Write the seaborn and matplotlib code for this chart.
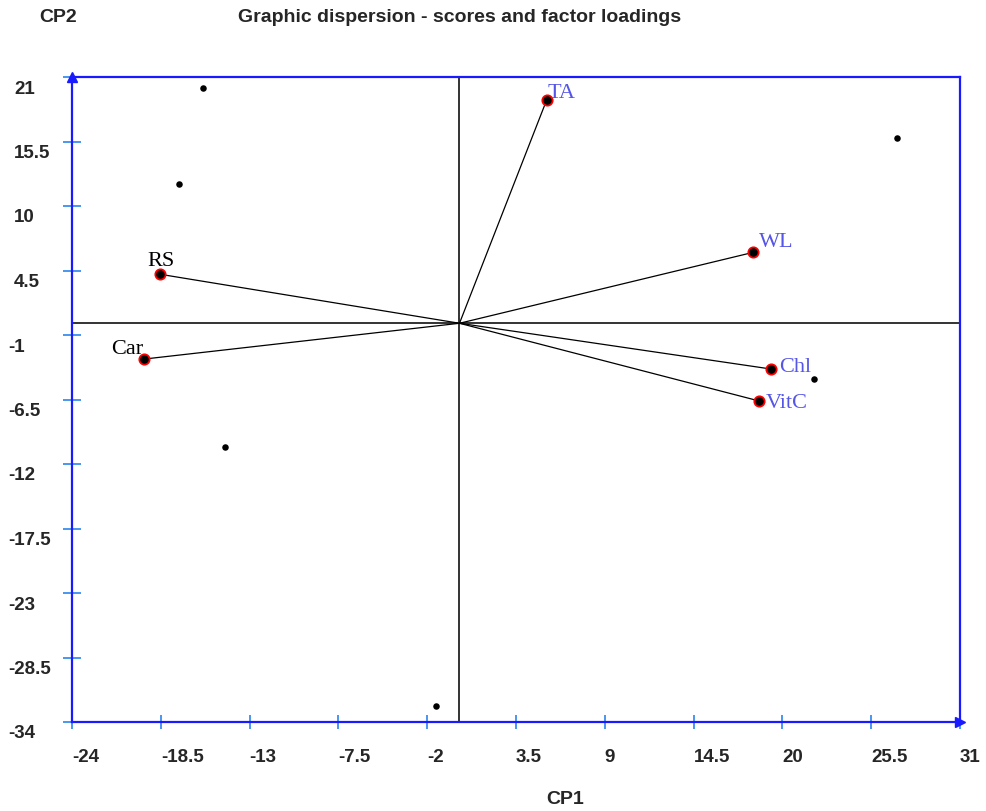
import matplotlib
matplotlib.use("Agg")
import matplotlib.pyplot as plt
import seaborn as sns
import pandas as pd
import numpy as np

# factor loadings (CP1, CP2)
load_names = ["TA", "WL", "Chl", "VitC", "RS", "Car"]
load_cp1 = [5.40, 18.20, 19.29, 18.57, -18.55, -19.52]
load_cp2 = [19.04, 6.05, -3.90, -6.63, 4.18, -3.05]

# scores (CP1, CP2)
score_cp1 = [-15.89, -17.37, 27.10, 21.98, -14.52, -1.45]
score_cp2 = [20.04, 11.88, 15.80, -4.78, -10.55, -32.64]

ticks_x = [-24, -18.5, -13, -7.5, -2, 3.5, 9, 14.5, 20, 25.5, 31]
ticks_y = [21, 15.5, 10, 4.5, -1, -6.5, -12, -17.5, -23, -28.5, -34]

sns.set_style("white")
plt.rcParams['font.family'] = ['Liberation Sans', 'DejaVu Sans']

loads = pd.DataFrame({"name": load_names, "cp1": load_cp1, "cp2": load_cp2})
scores = pd.DataFrame({"cp1": score_cp1, "cp2": score_cp2})

fig = plt.figure(figsize=(9.86, 8.11), dpi=100)
ax = fig.add_axes([72 / 986, 89 / 811, 888 / 986, 645 / 811])

# zero lines
ax.axhline(0, color="#333333", lw=1.4, zorder=1)
ax.axvline(0, color="#333333", lw=1.4, zorder=1)

# loading vectors
for _, r in loads.iterrows():
    ax.plot([0, r.cp1], [0, r.cp2], color="black", lw=0.9, zorder=2)

sns.scatterplot(data=scores, x="cp1", y="cp2", ax=ax, color="black", s=22,
                edgecolor="black", linewidth=0, zorder=3)
sns.scatterplot(data=loads, x="cp1", y="cp2", ax=ax, color="black", s=55,
                edgecolor="red", linewidth=1.3, zorder=4)

# loading labels: offset in pixels (baseline), alignment, colour
lab_style = {
    "TA": ((1, 2), "left", "#5555e6"),
    "WL": ((6, 5), "left", "#5555e6"),
    "Chl": ((8, -3), "left", "#5555e6"),
    "VitC": ((6, -7), "left", "#5555e6"),
    "RS": ((1, 8), "center", "black"),
    "Car": ((-1, 5), "right", "black"),
}
for _, r in loads.iterrows():
    off, ha, col = lab_style[r["name"]]
    ax.annotate(r["name"], (r.cp1, r.cp2), xytext=off, textcoords="offset pixels",
                ha=ha, va="baseline", color=col, fontsize=16,
                family=["Liberation Serif", "DejaVu Serif"], zorder=5)

ax.set_xlim(-24, 31)
ax.set_ylim(-34, 21)
ax.set_xticks(ticks_x)
ax.set_yticks(ticks_y)
ax.set_xticklabels([])
ax.set_yticklabels([])
ax.tick_params(axis="y", direction="inout", length=13, width=1.3, color="#3a8ef0", left=True)
ax.tick_params(axis="x", direction="inout", length=10, width=1.3, color="#3a8ef0", bottom=True)
ax.set_xlabel("")
ax.set_ylabel("")

for sp in ax.spines.values():
    sp.set_color("#1a1aff")
    sp.set_linewidth(1.6)
    sp.set_visible(True)

# tick labels, left aligned like the original software
for v in ticks_y:
    lbl = f"{v:g}"
    dx = -64 if v < 0 else -58
    ax.annotate(lbl, (0, v), xycoords=("axes fraction", "data"), xytext=(dx, -12),
                textcoords="offset pixels", ha="left", va="center",
                fontsize=13.5, fontweight="bold", annotation_clip=False)
for v in ticks_x:
    ax.annotate(f"{v:g}", (v, 0), xycoords=("data", "axes fraction"), xytext=(0, -36),
                textcoords="offset pixels", ha="left", va="center",
                fontsize=13.5, fontweight="bold", annotation_clip=False)

# arrow heads at axis ends
ax.plot([0], [1], marker="^", color="#1a1aff", ms=7, transform=ax.transAxes, clip_on=False)
ax.plot([1], [0], marker=">", color="#1a1aff", ms=7, transform=ax.transAxes, clip_on=False)

fig.text(58 / 986, 1 - 18 / 811, "CP2", ha="center", va="center", fontsize=14, fontweight="bold")
fig.text(460 / 986, 1 - 18 / 811, "Graphic dispersion - scores and factor loadings",
         ha="center", va="center", fontsize=14, fontweight="bold")
fig.text(565 / 986, 1 - 800 / 811, "CP1", ha="center", va="center", fontsize=14, fontweight="bold")

fig.savefig("out.png", dpi=100, facecolor="white")
